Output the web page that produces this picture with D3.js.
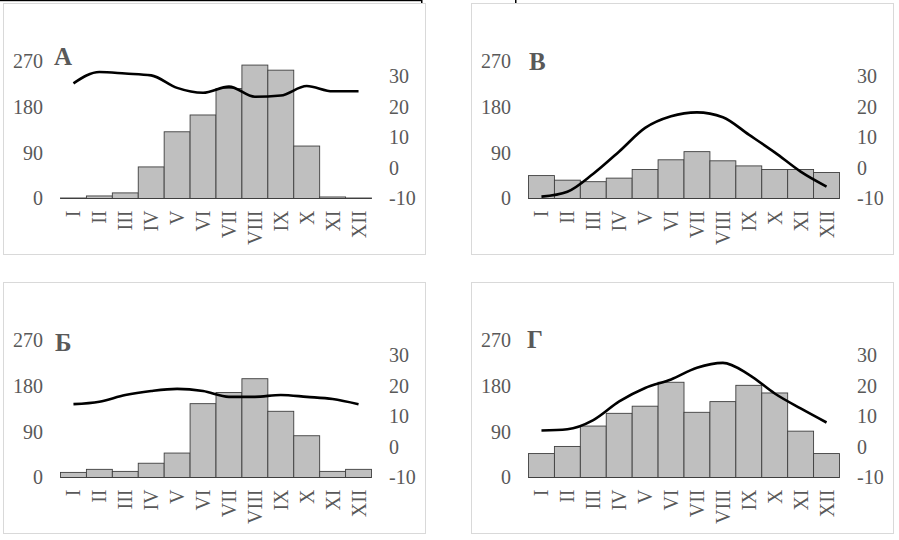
<!DOCTYPE html>
<html>
<head>
<meta charset="utf-8">
<script src="https://cdn.jsdelivr.net/npm/d3@7"></script>
<style>
  body { margin: 0; background: #fff; }
  text { font-family: "Liberation Serif", "Times New Roman", serif; }
</style>
</head>
<body>
<script>
// Months, shared by all four panels.
const months = ["I", "II", "III", "IV", "V", "VI", "VII", "VIII", "IX", "X", "XI", "XII"];

// Left axis (precipitation, bars) and right axis (temperature, line) ticks.
const rainTicks = [0, 90, 180, 270];
const tempTicks = [-10, 0, 10, 20, 30];

// Panel letters.
const panelNames = ["А", "В", "Б", "Г"];

// Precipitation, mm.
const rainA = [1, 5, 11, 62, 131, 164, 216, 262, 252, 103, 3, 1];
const rainV = [45, 36, 33, 40, 57, 76, 92, 74, 64, 57, 57, 51];
const rainB = [10, 16, 12, 28, 48, 145, 167, 194, 130, 82, 12, 16];
const rainG = [47, 61, 101, 126, 140, 187, 128, 149, 181, 166, 91, 47];

// Temperature, °C.
const tempA = [27.7, 31.4, 30.9, 30.3, 26.2, 24.6, 26.6, 23.3, 23.7, 26.8, 25.1, 25.1];
const tempV = [-9.4, -7.8, -1.9, 5.4, 13.1, 16.9, 18.2, 16.6, 10.9, 5.1, -1.2, -6.1];
const tempB = [14, 14.8, 17, 18.3, 19, 18.3, 16.4, 16.4, 17, 16.4, 15.7, 14];
const tempG = [5.4, 5.8, 8.8, 14.9, 19.3, 22.1, 25.9, 27.5, 23.7, 17.5, 12.6, 8.0];

const rains = [rainA, rainV, rainB, rainG];
const temps = [tempA, tempV, tempB, tempG];

// Layout of each panel: frame, plot area and letter position.
const panels = [
  { x0: 0,   y0: 0,   frameX: 3,   frameW: 422, letterX: 54,  letterY: 65 },
  { x0: 468, y0: 0,   frameX: 471, frameW: 422, letterX: 529, letterY: 70 },
  { x0: 0,   y0: 279, frameX: 3,   frameW: 422, letterX: 55,  letterY: 351 },
  { x0: 468, y0: 279, frameX: 471, frameW: 422, letterX: 527, letterY: 348 }
];

const svg = d3.select("body")
  .append("svg")
  .attr("width", 899)
  .attr("height", 540);

// Thin black edge left over at the very top of the scan.
svg.append("rect")
  .attr("x", 0).attr("y", 0)
  .attr("width", 422).attr("height", 1.2)
  .attr("fill", "#000");
svg.append("rect")
  .attr("x", 421).attr("y", 0)
  .attr("width", 1.5).attr("height", 3)
  .attr("fill", "#000");
svg.append("rect")
  .attr("x", 515).attr("y", 0)
  .attr("width", 1.5).attr("height", 3)
  .attr("fill", "#000");

panels.forEach((p, i) => {
  let g = svg.append("g").attr("class", "panel");

  // Frame.
  g.append("rect")
    .attr("x", p.frameX + 0.5)
    .attr("y", p.y0 + 3.5)
    .attr("width", p.frameW)
    .attr("height", 251)
    .attr("fill", "none")
    .attr("stroke", "#d9d9d9")
    .attr("stroke-width", 1);

  let left = p.x0 + 60.5;
  let right = p.x0 + 371.5;
  let base = p.y0 + 198.5;
  let top = p.y0 + 61;

  let x = d3.scaleBand().domain(months).range([left, right]).padding(0);
  let yRain = d3.scaleLinear().domain([0, 270]).range([base, top]);
  let yTemp = d3.scaleLinear().domain([-10, 35]).range([base, top]);

  // Bars.
  g.selectAll(".bar")
    .data(rains[i])
    .enter()
    .append("rect")
    .attr("class", "bar")
    .attr("x", (d, j) => x(months[j]))
    .attr("y", (d) => yRain(d))
    .attr("width", x.bandwidth())
    .attr("height", (d) => base - yRain(d))
    .attr("fill", "#bfbfbf")
    .attr("stroke", "#3f3f3f")
    .attr("stroke-width", 0.9);

  // Category axis line.
  g.append("line")
    .attr("x1", left).attr("x2", right)
    .attr("y1", base).attr("y2", base)
    .attr("stroke", "#3f3f3f")
    .attr("stroke-width", 1);

  // Temperature line.
  let line = d3.line()
    .x((d, j) => x(months[j]) + x.bandwidth() / 2)
    .y((d) => yTemp(d))
    .curve(d3.curveMonotoneX);

  g.append("path")
    .datum(temps[i])
    .attr("d", line)
    .attr("fill", "none")
    .attr("stroke", "#000")
    .attr("stroke-width", 2.6)
    .attr("stroke-linejoin", "round");

  // Left axis labels.
  let leftAxis = d3.axisLeft(yRain).tickValues(rainTicks)
    .tickFormat((d) => String(d)).tickSize(0).tickPadding(0);
  let la = g.append("g")
    .attr("transform", `translate(${p.x0 + 43},0)`)
    .call(leftAxis);
  la.select(".domain").remove();
  la.selectAll("text")
    .attr("font-family", "Liberation Serif")
    .attr("font-size", 20)
    .attr("fill", "#595959");

  // Right axis labels (plain hyphen for negatives, as in the original).
  let rightAxis = d3.axisRight(yTemp).tickValues(tempTicks)
    .tickFormat((d) => String(d)).tickSize(0).tickPadding(0);
  let ra = g.append("g")
    .attr("transform", `translate(${p.x0 + 389},0)`)
    .call(rightAxis);
  ra.select(".domain").remove();
  ra.selectAll("text")
    .attr("font-family", "Liberation Serif")
    .attr("font-size", 20)
    .attr("fill", "#595959");

  // Month labels, rotated to read bottom-to-top.
  g.selectAll(".month")
    .data(months)
    .enter()
    .append("text")
    .attr("class", "month")
    .attr("transform", (d) => `translate(${x(d) + x.bandwidth() / 2},${base + 12}) rotate(-90)`)
    .attr("text-anchor", "end")
    .attr("dy", "0.35em")
    .attr("font-size", 20)
    .attr("fill", "#595959")
    .text((d) => d);

  // Panel letter.
  g.append("text")
    .attr("x", p.letterX)
    .attr("y", p.letterY)
    .attr("font-size", 25)
    .attr("font-weight", "bold")
    .attr("fill", "#595959")
    .text(panelNames[i]);
});
</script>
</body>
</html>
